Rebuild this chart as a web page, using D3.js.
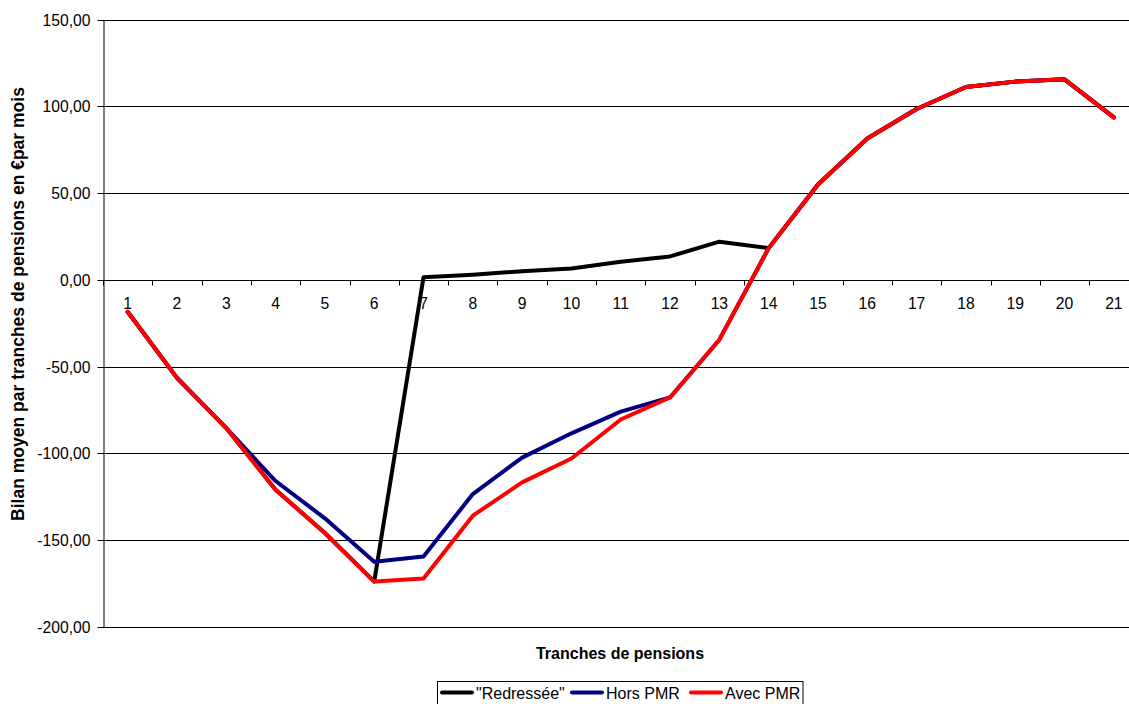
<!DOCTYPE html>
<html>
<head>
<meta charset="utf-8">
<script src="https://cdn.jsdelivr.net/npm/d3@7"></script>
<style>
  html, body { margin: 0; padding: 0; background: #fff; overflow: hidden; }
  svg { display: block; }
  text { font-family: "Liberation Sans", Arial, sans-serif; fill: #000; }
</style>
</head>
<body>
<svg id="chart" width="1129" height="704"></svg>
<script>
// Pension brackets 1..21
const categories = ["1","2","3","4","5","6","7","8","9","10","11","12","13","14","15","16","17","18","19","20","21"];

// Average monthly balance per pension bracket (€)
const redressee = [-18.4, -56.5, -85.5, -121, -146, -174, 1.5, 3, 5, 6.5, 10.4, 13.5, 22, 18.3, 55, 81.5, 98.5, 111.2, 114.3, 115.6, 93.7];
const horsPMR   = [-18.4, -56.5, -85.5, -116, -137.5, -162.6, -159.5, -123.5, -102.5, -88.5, -76, -67.8, -34.5, 18.3, 55, 81.5, 98.5, 111.2, 114.3, 115.6, 93.7];
const avecPMR   = [-18.4, -56.5, -85.5, -121, -146, -174, -172.2, -136, -116.8, -103, -80.5, -67.8, -34.5, 18.3, 55, 81.5, 98.5, 111.2, 114.3, 115.6, 93.7];

const yTicks = [150, 100, 50, 0, -50, -100, -150, -200];

const series = [
  { name: "\"Redressée\"", values: redressee, color: "#000000" },
  { name: "Hors PMR",      values: horsPMR,   color: "#000080" },
  { name: "Avec PMR",      values: avecPMR,   color: "#ff0000" }
];

const svg = d3.select("#chart");
const plotLeft = 103, plotRight = 1138.5, plotTop = 19.7, plotBottom = 626.7;
const tickFont = "15.7px";

const x = d3.scaleBand().domain(categories).range([plotLeft, plotRight]).padding(0);
const y = d3.scaleLinear().domain([-200, 150]).range([plotBottom, plotTop]);
const cx = c => x(c) + x.bandwidth() / 2;

// French number format with a plain hyphen for negatives
const fmt = v => d3.format(".2f")(v).replace(".", ",").replace("\u2212", "-");
const snap = v => Math.round(v) + 0.5;

// Horizontal gridlines
svg.append("g")
  .selectAll("line")
  .data(yTicks)
  .join("line")
  .attr("x1", plotLeft).attr("x2", plotRight)
  .attr("y1", d => snap(y(d))).attr("y2", d => snap(y(d)))
  .attr("stroke", "#000").attr("stroke-width", 1);

// Value axis
const yAxis = svg.append("g")
  .attr("transform", `translate(${plotLeft + 0.5},0)`)
  .call(d3.axisLeft(y).tickValues(yTicks).tickFormat(fmt).tickSize(6).tickPadding(7).tickSizeOuter(0));
yAxis.select(".domain").attr("stroke", "#000");
yAxis.selectAll(".tick line").attr("stroke", "#000");
yAxis.selectAll(".tick").attr("transform", d => `translate(0,${snap(y(d))})`);
yAxis.selectAll("text").style("font-size", tickFont).style("font-family", "'Liberation Sans', Arial, sans-serif").attr("fill", "#000");

// Category axis on the zero line: tick marks between brackets
const y0 = snap(y(0));
svg.append("g")
  .selectAll("line")
  .data(categories.concat(["end"]))
  .join("line")
  .attr("x1", d => snap(d === "end" ? plotRight : x(d)))
  .attr("x2", d => snap(d === "end" ? plotRight : x(d)))
  .attr("y1", y0).attr("y2", y0 + 5)
  .attr("stroke", "#000");

const xAxis = svg.append("g")
  .attr("transform", `translate(0,${y0})`)
  .call(d3.axisBottom(x).tickSize(0).tickPadding(17));
xAxis.select(".domain").remove();
xAxis.selectAll("text").style("font-size", tickFont).style("font-family", "'Liberation Sans', Arial, sans-serif").attr("fill", "#000");

// Series lines
const line = d3.line().x((d, i) => cx(categories[i])).y(d => y(d));
svg.append("g")
  .selectAll("path")
  .data(series)
  .join("path")
  .attr("d", s => line(s.values))
  .attr("fill", "none")
  .attr("stroke", s => s.color)
  .attr("stroke-width", 4)
  .attr("stroke-linejoin", "round")
  .attr("stroke-linecap", "round");

// Axis titles
svg.append("text")
  .attr("x", 620).attr("y", 659)
  .attr("text-anchor", "middle")
  .style("font-size", "16px").style("font-weight", "bold")
  .text("Tranches de pensions");

svg.append("text")
  .attr("transform", "translate(24,304) rotate(-90)")
  .attr("text-anchor", "middle")
  .style("font-size", "17.5px").style("font-weight", "bold")
  .text("Bilan moyen par tranches de pensions en €par mois");

// Legend
const legend = svg.append("g");
legend.append("rect")
  .attr("x", 437.5).attr("y", 681.5).attr("width", 365.5).attr("height", 30)
  .attr("fill", "#fff").attr("stroke", "#000").attr("stroke-width", 1);
const legendX = [442, 572, 691];
series.forEach((s, i) => {
  const g = legend.append("g").attr("transform", `translate(${legendX[i]},692.5)`);
  g.append("line").attr("x1", 0).attr("x2", 30).attr("y1", 0).attr("y2", 0)
    .attr("stroke", s.color).attr("stroke-width", 4).attr("stroke-linecap", "round");
  g.append("text").attr("x", 34).attr("y", 6)
    .style("font-size", "16px").text(s.name);
});
</script>
</body>
</html>
